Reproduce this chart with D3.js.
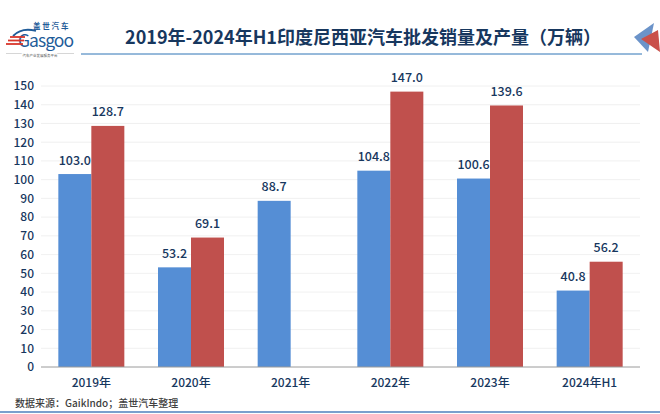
<!DOCTYPE html>
<html>
<head>
<meta charset="utf-8">
<script src="https://cdn.jsdelivr.net/npm/d3@7"></script>
<style>
  html, body { margin: 0; padding: 0; background: #fff; }
  text { font-family: "Noto Sans CJK SC", "Noto Sans", sans-serif; }
</style>
</head>
<body>
<svg id="chart" width="660" height="414"></svg>
<script>
const categories = ['2019年', '2020年', '2021年', '2022年', '2023年', '2024年H1'];
const wholesale = [103.0, 53.2, 88.7, 104.8, 100.6, 40.8];
const production = [128.7, 69.1, null, 147.0, 139.6, 56.2];
const yTicks = d3.range(0, 151, 10);

const svg = d3.select('#chart');
const navy = '#17375e';

const x = d3.scaleBand().domain(categories).range([41.5, 639.5]);
const y = d3.scaleLinear().domain([0, 150]).range([367, 86]);
const barW = 33;

// gridlines
svg.append('g').selectAll('line')
  .data(yTicks.filter(d => d > 0))
  .join('line')
  .attr('x1', 41).attr('x2', 640)
  .attr('y1', d => y(d)).attr('y2', d => y(d))
  .attr('stroke', '#ececec').attr('stroke-width', 0.8);

// bars
const series = [
  { values: wholesale, color: '#558ed5', offset: -barW },
  { values: production, color: '#c0504d', offset: 0 }
];
series.forEach(s => {
  const group = categories.map((c, i) => ({ c, v: s.values[i] })).filter(d => d.v !== null);
  svg.append('g').selectAll('rect')
    .data(group)
    .join('rect')
    .attr('x', d => x(d.c) + x.bandwidth() / 2 + s.offset)
    .attr('y', d => y(d.v))
    .attr('width', barW)
    .attr('height', d => y(0) - y(d.v))
    .attr('fill', s.color);

  svg.append('g').selectAll('text')
    .data(group)
    .join('text')
    .attr('x', d => x(d.c) + x.bandwidth() / 2 + s.offset + barW / 2)
    .attr('y', d => y(d.v) - 9.5)
    .attr('text-anchor', 'middle')
    .attr('font-size', 12.5)
    .attr('font-weight', 500)
    .attr('fill', navy)
    .text(d => d.v.toFixed(1));
});

// axes
const xAxis = svg.append('g').attr('transform', `translate(0,${y(0)})`)
  .call(d3.axisBottom(x).tickSize(0).tickPadding(11));
xAxis.select('.domain').attr('stroke', '#9a9a9a').attr('d', 'M41,0H640');
xAxis.selectAll('text').attr('font-size', 12).attr('font-weight', 500).attr('fill', navy).attr('font-family', '"Noto Sans CJK SC"');

const yAxis = svg.append('g').attr('transform', 'translate(41,0)')
  .call(d3.axisLeft(y).tickValues(yTicks).tickSize(0).tickPadding(7));
yAxis.select('.domain').remove();
yAxis.selectAll('text').attr('font-size', 12).attr('font-weight', 500).attr('fill', navy).attr('font-family', '"Noto Sans CJK SC"');

// title and rule
svg.append('text')
  .attr('x', 363).attr('y', 44)
  .attr('text-anchor', 'middle')
  .attr('font-size', 18).attr('font-weight', 700).attr('fill', navy)
  .text('2019年-2024年H1印度尼西亚汽车批发销量及产量（万辆）');
svg.append('line')
  .attr('x1', 81).attr('x2', 642).attr('y1', 54).attr('y2', 54)
  .attr('stroke', '#2e75b6').attr('stroke-width', 1);

// source note and bottom rule
svg.append('text')
  .attr('x', 15).attr('y', 407)
  .attr('font-size', 10).attr('font-weight', 500).attr('fill', '#404040')
  .text('数据来源：GaikIndo；盖世汽车整理');
svg.append('line')
  .attr('x1', 0).attr('x2', 660).attr('y1', 412).attr('y2', 412)
  .attr('stroke', '#4f81bd').attr('stroke-width', 1.5);

// logo
const logo = svg.append('g');
logo.append('text').attr('x', 33).attr('y', 29)
  .attr('font-size', 7.5).attr('font-weight', 700).attr('letter-spacing', 1.8).attr('fill', '#1f5c99')
  .text('盖世汽车');
logo.append('path').attr('d', 'M13,36 Q22,27 36,31').attr('fill', 'none')
  .attr('stroke', '#1f5c99').attr('stroke-width', 1.8);
logo.append('text').attr('x', 18).attr('y', 47)
  .attr('font-family', '"Liberation Serif"').attr('font-size', 17.5).attr('fill', '#1f5c99')
  .attr('textLength', 56)
  .text('Gasgoo');
[37, 40.5, 44].forEach((ly, i) => {
  logo.append('line')
    .attr('x1', 10 - i * 2).attr('x2', 25 - i).attr('y1', ly).attr('y2', ly)
    .attr('stroke', '#d9362b').attr('stroke-width', 1.8);
});
logo.append('line').attr('x1', 6).attr('x2', 74).attr('y1', 53.5).attr('y2', 53.5)
  .attr('stroke', '#bbb').attr('stroke-width', 0.6);
logo.append('text').attr('x', 40).attr('y', 57).attr('text-anchor', 'middle')
  .attr('font-size', 3.5).attr('fill', '#555')
  .attr('stroke', '#fff').attr('stroke-width', 2).attr('paint-order', 'stroke')
  .text('汽车产业发展服务平台');

// corner arrow mark
svg.append('path').attr('d', 'M634,37 L654,23 L648,52 Z').attr('fill', '#6b93c9');
svg.append('path').attr('d', 'M641,39 L658,30 L660,52 Z').attr('fill', '#c9504a');
</script>
</body>
</html>
